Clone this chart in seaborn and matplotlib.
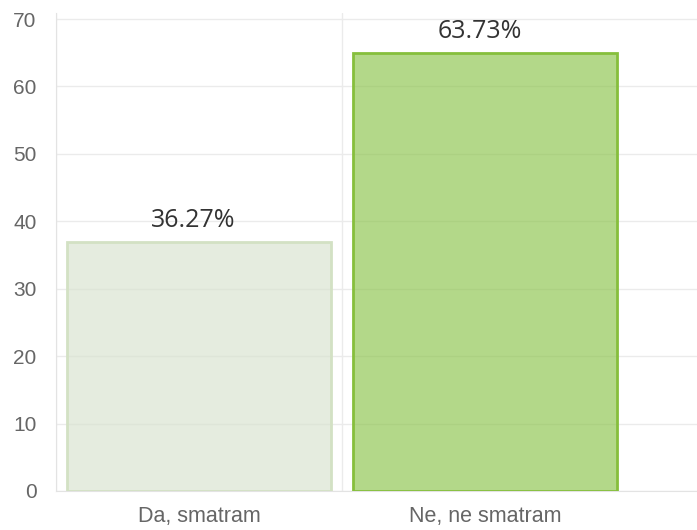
import matplotlib
matplotlib.use('Agg')
import matplotlib.pyplot as plt
import matplotlib.colors as mcolors
import seaborn as sns
import pandas as pd

# Podaci
categories = ['Da, smatram', 'Ne, ne smatram']
bar_heights = [37, 65]
value_labels = ['36.27%', '63.73%']
y_ticks = [0, 10, 20, 30, 40, 50, 60, 70]

fill_colors = ['#d7e2ce', '#8bc34a']
edge_colors = ['#d3e1c4', '#86bf3c']

df = pd.DataFrame({'odgovor': categories, 'vrijednost': bar_heights})

sns.set_style('white')
plt.rcParams['font.family'] = ['Liberation Sans', 'DejaVu Sans']

fig = plt.figure(figsize=(6.97, 5.30), dpi=100)
ax = fig.add_axes([56 / 697, 39 / 530, 641 / 697, 478 / 530])

sns.barplot(data=df, x='odgovor', y='vrijednost', hue='odgovor',
            palette=fill_colors, width=0.925, legend=False, ax=ax,
            linewidth=2, zorder=3)

for patch, fc, ec in zip(ax.patches, fill_colors, edge_colors):
    patch.set_facecolor(mcolors.to_rgba(fc, 0.65))
    patch.set_edgecolor(ec)

# Oznake iznad stupaca
for patch, lab in zip(ax.patches, value_labels):
    ax.annotate(lab, (patch.get_x() + patch.get_width() / 2, patch.get_height()),
                xytext=(-4, 6), textcoords='offset points', ha='center', va='bottom',
                fontsize=18, color='#333333', family=['Open Sans', 'DejaVu Sans'])

ax.set_ylim(0, 70.9)
ax.set_xlim(-0.5, -0.5 + 641 / 286)
ax.set_yticks(y_ticks)
ax.set_xticks([0, 1])
ax.set_xticklabels(categories)
ax.set_xticks([-0.5, 0.5], minor=True)

ax.set_xlabel('')
ax.set_ylabel('')

grid_c = '#ebebeb'
ax.grid(axis='y', color=grid_c, linewidth=1, zorder=0)
ax.grid(axis='x', which='minor', color=grid_c, linewidth=1, zorder=0)
ax.set_axisbelow(True)

for side in ['top', 'right']:
    ax.spines[side].set_visible(False)
ax.spines['left'].set_color('#e3e3e3')
ax.spines['bottom'].set_color('#e3e3e3')

ax.tick_params(axis='y', length=7, color=grid_c, pad=7, labelsize=15, labelcolor='#666666')
ax.tick_params(axis='x', which='major', length=0, pad=11, labelsize=15.5, labelcolor='#666666')
ax.tick_params(axis='x', which='minor', length=6, color='#e3e3e3')

fig.savefig('out.png', dpi=100)
